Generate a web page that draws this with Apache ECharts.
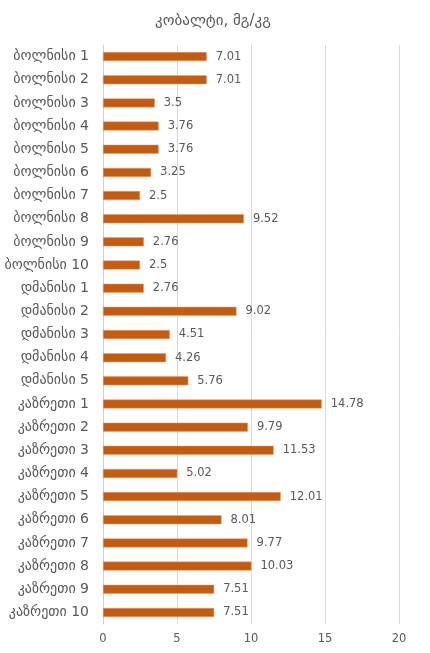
<!DOCTYPE html>
<html><head><meta charset="utf-8">
<script src="https://cdn.jsdelivr.net/npm/echarts@6/dist/echarts.min.js"></script>
<style>html,body{margin:0;padding:0;background:#fff}#c{width:430px;height:653px}</style>
</head><body><div id="c"></div>
<script>
const titleText = 'კობალტი, მგ/კგ';
const categories = ['ბოლნისი 1','ბოლნისი 2','ბოლნისი 3','ბოლნისი 4','ბოლნისი 5','ბოლნისი 6','ბოლნისი 7','ბოლნისი 8','ბოლნისი 9','ბოლნისი 10','დმანისი 1','დმანისი 2','დმანისი 3','დმანისი 4','დმანისი 5','კაზრეთი 1','კაზრეთი 2','კაზრეთი 3','კაზრეთი 4','კაზრეთი 5','კაზრეთი 6','კაზრეთი 7','კაზრეთი 8','კაზრეთი 9','კაზრეთი 10'];
const values = [7.01,7.01,3.5,3.76,3.76,3.25,2.5,9.52,2.76,2.5,2.76,9.02,4.51,4.26,5.76,14.78,9.79,11.53,5.02,12.01,8.01,9.77,10.03,7.51,7.51];
const xTicks = [0,5,10,15,20];

const chart = echarts.init(document.getElementById('c'), null, {renderer:'canvas'});
chart.setOption({
  animation:false,
  backgroundColor:'#fff',
  title:{text:titleText,left:208,top:9,textAlign:'center',
    textStyle:{fontFamily:'DejaVu Sans',fontSize:15,fontWeight:'normal',color:'#595959'}},
  grid:{left:103,right:31,top:45,bottom:29,containLabel:false},
  xAxis:{type:'value',min:xTicks[0],max:xTicks[xTicks.length-1],interval:5,
    axisLine:{show:false},axisTick:{show:false},
    splitLine:{show:true,lineStyle:{color:'#d9d9d9',width:1}},
    axisLabel:{color:'#595959',fontFamily:'DejaVu Sans',fontSize:11.5,margin:9}},
  yAxis:{type:'category',data:categories,inverse:true,
    axisLine:{show:true,lineStyle:{color:'#d0d0d0',width:1}},axisTick:{show:false},
    axisLabel:{color:'#595959',fontFamily:'DejaVu Sans',fontSize:14,margin:14}},
  series:[{type:'bar',data:values,barWidth:9,
    itemStyle:{color:'#C55A11',borderColor:'#E8A070',borderWidth:0.5},
    label:{show:true,position:'right',distance:9,color:'#595959',fontFamily:'DejaVu Sans',fontSize:11.5}}]
});
</script></body></html>
